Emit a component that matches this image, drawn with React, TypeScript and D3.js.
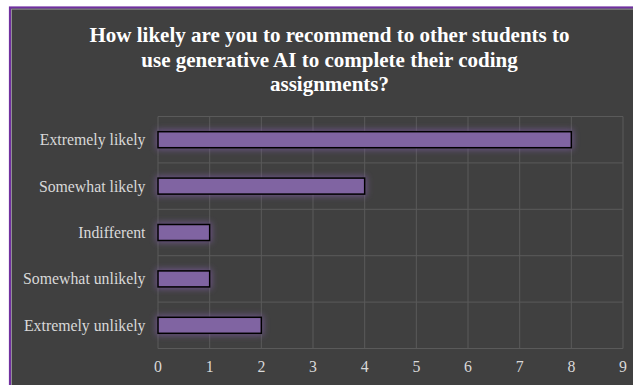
import React from "react";
import * as d3 from "d3";

const categories = ["Extremely likely", "Somewhat likely", "Indifferent", "Somewhat unlikely", "Extremely unlikely"];
const values = [8, 4, 1, 1, 2];
const xTicks = [0, 1, 2, 3, 4, 5, 6, 7, 8, 9];
const titleLines = [
  "How likely are you to recommend to other students to",
  "use generative AI to complete their coding",
  "assignments?",
];

const FONT = "'Liberation Serif', 'Times New Roman', 'DejaVu Serif', serif";

export default function App() {
  const W = 633, H = 385;
  const left = 158, right = 623, top = 116.5, bottom = 348.5;
  const x = d3.scaleLinear().domain([0, 9]).range([left, right]);
  const y = d3.scaleBand().domain(categories).range([top, bottom]).paddingInner(0.655).paddingOuter(0.3275);
  const band = d3.scaleBand().domain(categories).range([top, bottom]);
  return (
    <svg width={W} height={H} style={{ position: "fixed", left: 0, top: 0, display: "block" }}>
      <defs>
        <filter id="glow" x="-30%" y="-100%" width="160%" height="300%">
          <feGaussianBlur in="SourceGraphic" stdDeviation="3" />
        </filter>
      </defs>
      <rect x={0} y={0} width={W} height={H} fill="#ffffff" />
      <rect x={10} y={7.5} width={W} height={H} fill="#404040" stroke="#7030a0" strokeWidth={2.2} />
      <rect x={11.6} y={9.1} width={W} height={H} fill="none" stroke="#a6a6a6" strokeWidth={0.8} />
      {titleLines.map((t, i) => (
        <text key={i} x={329.5} y={42 + i * 24.5} textAnchor="middle" fill="#ffffff"
          fontFamily={FONT} fontWeight="bold" fontSize={21}>
          {t}
        </text>
      ))}
      {xTicks.map((t) => (
        <line key={"v" + t} x1={x(t)} x2={x(t)} y1={top} y2={bottom} stroke="#5a5a5a" strokeWidth={1} />
      ))}
      {categories.map((c) => (
        <line key={"h" + c} x1={left} x2={right} y1={band(c)!} y2={band(c)!} stroke="#5a5a5a" strokeWidth={1} />
      ))}
      <line x1={left} x2={right} y1={bottom} y2={bottom} stroke="#5a5a5a" strokeWidth={1} />
      {categories.map((c, i) => (
        <rect key={"g" + c} x={x(0) - 2} y={y(c)! - 2} width={x(values[i]) - x(0) + 4} height={y.bandwidth() + 4}
          fill="#7a5a9e" opacity={0.75} filter="url(#glow)" />
      ))}
      {categories.map((c, i) => (
        <rect key={"b" + c} x={x(0)} y={y(c)!} width={x(values[i]) - x(0)} height={y.bandwidth()}
          fill="#8064a2" stroke="#000000" strokeWidth={1.5} />
      ))}
      {categories.map((c) => (
        <text key={"l" + c} x={145.5} y={band(c)! + band.bandwidth() / 2} dy="0.35em" textAnchor="end" fill="#d9d9d9"
          fontFamily={FONT} fontSize={15.8}>
          {c}
        </text>
      ))}
      {xTicks.map((t) => (
        <text key={"t" + t} x={x(t)} y={366.7} dy="0.35em" textAnchor="middle" fill="#d9d9d9"
          fontFamily={FONT} fontSize={15.8}>
          {t}
        </text>
      ))}
    </svg>
  );
}
